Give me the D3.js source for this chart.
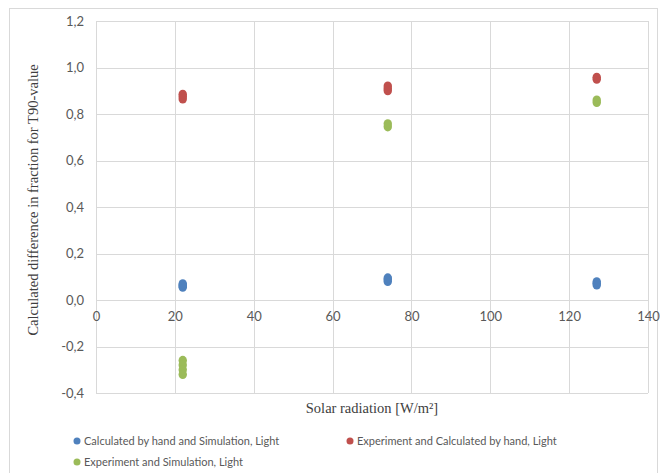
<!DOCTYPE html>
<html>
<head>
<meta charset="utf-8">
<script src="https://cdn.jsdelivr.net/npm/d3@7"></script>
<style>
  body { margin: 0; background: #fff; }
  .tick text { font-family: Lato, "Liberation Sans", sans-serif; font-size: 13px; fill: #595959; }
  .title { font-family: "Liberation Serif", serif; font-size: 14.5px; fill: #404040; }
  .legend text { font-family: Lato, "Liberation Sans", sans-serif; font-size: 11px; fill: #595959; }
</style>
</head>
<body>
<svg id="chart" width="660" height="473"></svg>
<script>
// series: Solar radiation [W/m²] and the calculated difference values
var handSimX = [22, 22, 22, 22, 74, 74, 74, 127, 127, 127];
var handSimY = [0.055, 0.06, 0.065, 0.07, 0.08, 0.088, 0.095, 0.065, 0.072, 0.078];
var expHandX = [22, 22, 22, 74, 74, 74, 127, 127];
var expHandY = [0.865, 0.875, 0.885, 0.9, 0.91, 0.92, 0.95, 0.958];
var expSimX = [22, 22, 22, 22, 74, 74, 127, 127];
var expSimY = [-0.26, -0.28, -0.30, -0.32, 0.745, 0.758, 0.85, 0.86];

var xTicks = [0, 20, 40, 60, 80, 100, 120, 140];
var yTicks = [-0.4, -0.2, 0.0, 0.2, 0.4, 0.6, 0.8, 1.0, 1.2];

var seriesNames = ["Calculated by hand and Simulation, Light",
                   "Experiment and Calculated by hand, Light",
                   "Experiment and Simulation, Light"];
var colors = ["#4F81BD", "#C0504D", "#9BBB59"];

(function(){
  var series = [
    { name: seriesNames[0], color: colors[0], pts: d3.zip(handSimX, handSimY) },
    { name: seriesNames[1], color: colors[1], pts: d3.zip(expHandX, expHandY) },
    { name: seriesNames[2], color: colors[2], pts: d3.zip(expSimX, expSimY) }
  ];

  var svg = d3.select("#chart");
  var left = 96, right = 648, plotTop = 21, plotBottom = 393;

  svg.append("rect")
     .attr("x", 9.5).attr("y", 8.5)
     .attr("width", 648).attr("height", 470)
     .attr("fill", "none").attr("stroke", "#d9d9d9");

  var x = d3.scaleLinear().domain([0, 140]).range([left, right]);
  var y = d3.scaleLinear().domain([-0.4, 1.2]).range([plotBottom, plotTop]);
  var fmt = function(d){ return d3.format(".1f")(d).replace(".", ",").replace("−", "-"); };

  // gridlines
  svg.append("g")
     .selectAll("line")
     .data(yTicks)
     .enter().append("line")
     .attr("x1", left).attr("x2", right)
     .attr("y1", function(d){ return Math.round(y(d)) + 0.5; })
     .attr("y2", function(d){ return Math.round(y(d)) + 0.5; })
     .attr("stroke", "#d9d9d9");

  svg.append("g")
     .selectAll("line")
     .data(xTicks)
     .enter().append("line")
     .attr("y1", plotTop).attr("y2", plotBottom)
     .attr("x1", function(d){ return Math.round(x(d)) + 0.5; })
     .attr("x2", function(d){ return Math.round(x(d)) + 0.5; })
     .attr("stroke", "#d9d9d9");

  // axes (labels only)
  var yAxis = svg.append("g")
     .attr("transform", "translate(" + (left - 6) + ",0)")
     .call(d3.axisLeft(y).tickValues(yTicks).tickFormat(fmt).tickSize(0).tickPadding(6));
  yAxis.select(".domain").remove();

  var xAxis = svg.append("g")
     .attr("transform", "translate(0," + (y(0) + 6) + ")")
     .call(d3.axisBottom(x).tickValues(xTicks).tickSize(0).tickPadding(6));
  xAxis.select(".domain").remove();

  // titles
  svg.append("text").attr("class", "title")
     .attr("x", 372).attr("y", 413)
     .attr("text-anchor", "middle")
     .text("Solar radiation [W/m²]");

  svg.append("text").attr("class", "title")
     .attr("transform", "translate(38,200) rotate(-90)")
     .attr("text-anchor", "middle")
     .text("Calculated difference in fraction for T90-value");

  // points
  series.forEach(function(s){
    svg.append("g")
       .selectAll("ellipse")
       .data(s.pts)
       .enter().append("ellipse")
       .attr("cx", function(d){ return x(d[0]); })
       .attr("cy", function(d){ return y(d[1]); })
       .attr("rx", 4.2).attr("ry", 4.6)
       .attr("fill", s.color);
  });

  // legend
  var legendPos = [[77, 441], [350, 441], [77, 462]];
  var legend = svg.append("g").attr("class", "legend");
  series.forEach(function(s, i){
    var g = legend.append("g").attr("transform", "translate(" + legendPos[i][0] + "," + legendPos[i][1] + ")");
    g.append("circle").attr("r", 3.5).attr("fill", s.color);
    g.append("text").attr("x", 7).attr("dy", "0.35em").text(s.name);
  });
})();
</script>
</body>
</html>
